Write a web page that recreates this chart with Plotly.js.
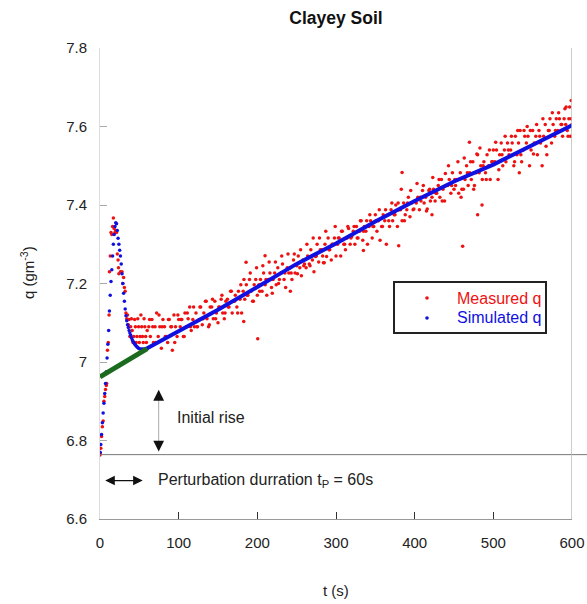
<!DOCTYPE html>
<html>
<head>
<meta charset="utf-8">
<script src="https://cdn.plot.ly/plotly-3.0.1.min.js"></script>
<style>html,body{margin:0;padding:0;background:#fff;}#chart{width:587px;height:604px;}</style>
</head>
<body>
<div id="chart"></div>
<script>
// ---- Measured q: early transient (t, q)
const measEarlyT = [0,0.5,1,2,3,4,5,6,7,8,8.5,9.5,10.5,11.5,12,13,14,15,16,17,18,19,20,21,22,23,23.5,24,26,28,29,30,31,32,33,34,35,36,37,38,39,40,41,42,43,44,45,46,47,48,49,50,51,52,53,54,55,56,57,58,59,60];
const measEarlyQ = [6.763,6.768,6.78,6.81,6.835,6.85,6.9,6.912,6.93,6.94,6.945,7.03,7.05,7.12,7.23,7.27,7.33,7.325,7.345,7.367,7.34,7.33,7.335,7.33,7.275,7.26,7.24,7.225,7.23,7.23,7.2,7.215,7.19,7.18,7.125,7.11,7.12,7.095,7.108,7.065,7.09,7.11,7.08,7.05,7.065,7.108,7.09,7.05,7.065,7.11,7.09,7.05,7.065,7.12,7.09,7.065,7.05,7.11,7.09,7.065,7.05,7.08];

// ---- Measured q: main period (even seconds)
const measT = [
62,64,66,68,70,72,74,76,78,80,
82,84,86,88,90,92,94,96,98,100,
102,104,106,108,110,112,114,116,118,120,
122,124,126,128,130,132,134,136,138,140,
142,144,146,148,150,152,154,156,158,160,
162,164,166,168,170,172,174,176,178,180,
182,184,186,188,190,192,194,196,198,200,
202,204,206,208,210,212,214,216,218,220,
222,224,226,228,230,232,234,236,238,240,
242,244,246,248,250,252,254,256,258,260,
262,264,266,268,270,272,274,276,278,280,
282,284,286,288,290,292,294,296,298,300,
302,304,306,308,310,312,314,316,318,320,
322,324,326,328,330,332,334,336,338,340,
342,344,346,348,350,352,354,356,358,360,
362,364,366,368,370,372,374,376,378,380,
382,384,386,388,390,392,394,396,398,400,
402,404,406,408,410,412,414,416,418,420,
422,424,426,428,430,432,434,436,438,440,
442,444,446,448,450,452,454,456,458,460,
462,464,466,468,470,472,474,476,478,480,
482,484,486,488,490,492,494,496,498,500,
502,504,506,508,510,512,514,516,518,520,
522,524,526,528,530,532,534,536,538,540,
542,544,546,548,550,552,554,556,558,560,
562,564,566,568,570,572,574,576,578,580,
582,584,586,588,590,592,594,596,598,600];
const measQ = [
7.09,7.065,7.108,7.05,7.09,7.125,7.065,7.09,7.035,7.108,
7.09,7.065,7.05,7.108,7.09,7.03,7.12,7.09,7.065,7.108,
7.09,7.108,7.065,7.125,7.09,7.11,7.14,7.08,7.108,7.09,
7.125,7.09,7.108,7.14,7.095,7.125,7.155,7.11,7.09,7.14,
7.14,7.11,7.155,7.125,7.1,7.14,7.16,7.125,7.11,7.155,
7.16,7.14,7.18,7.125,7.155,7.17,7.14,7.18,7.16,7.125,
7.18,7.16,7.197,7.17,7.21,7.18,7.155,7.197,7.21,7.17,
7.197,7.21,7.18,7.227,7.197,7.17,7.21,7.227,7.19,7.21,
7.227,7.197,7.24,7.21,7.227,7.25,7.21,7.19,7.24,7.227,
7.24,7.21,7.26,7.227,7.245,7.27,7.24,7.22,7.26,7.25,
7.24,7.27,7.25,7.286,7.26,7.23,7.269,7.3,7.255,7.286,
7.286,7.253,7.3,7.269,7.316,7.286,7.26,7.3,7.316,7.27,
7.3,7.316,7.27,7.333,7.3,7.286,7.316,7.34,7.3,7.32,
7.333,7.3,7.345,7.316,7.333,7.36,7.31,7.345,7.333,7.3,
7.345,7.36,7.316,7.345,7.375,7.333,7.36,7.31,7.345,7.375,
7.36,7.3,7.375,7.345,7.388,7.36,7.375,7.4,7.345,7.388,
7.388,7.36,7.405,7.375,7.388,7.42,7.37,7.405,7.388,7.41,
7.405,7.42,7.388,7.41,7.437,7.405,7.42,7.39,7.437,7.41,
7.42,7.44,7.41,7.43,7.45,7.42,7.465,7.44,7.41,7.45,
7.45,7.465,7.43,7.482,7.44,7.45,7.465,7.43,7.482,7.44,
7.44,7.465,7.5,7.45,7.482,7.465,7.51,7.45,7.482,7.528,
7.482,7.5,7.465,7.51,7.482,7.528,7.5,7.465,7.51,7.54,
7.51,7.54,7.465,7.528,7.558,7.5,7.54,7.51,7.558,7.528,
7.54,7.558,7.5,7.575,7.528,7.558,7.59,7.51,7.54,7.575,
7.558,7.575,7.5,7.54,7.59,7.558,7.575,7.528,7.59,7.558,
7.5,7.575,7.605,7.528,7.59,7.62,7.558,7.605,7.575,7.62,
7.59,7.62,7.605,7.575,7.62,7.605,7.59,7.62,7.575,7.605];

// ---- Measured q: main period (additional odd-second readings)
const measT2 = [
63,67,71,75,79, 83,87,91,95,99, 103,107,111,115,119, 123,127,131,135,139,
143,147,151,155,159, 163,167,171,175,179, 183,187,191,195,199, 203,207,211,215,219,
223,227,231,235,239, 243,247,251,255,259, 263,267,271,275,279, 283,287,291,295,299,
303,307,311,315,319, 323,327,331,335,339, 343,347,351,355,359, 363,367,371,375,379,
383,387,391,395,399, 403,407,411,415,419, 423,427,431,435,439, 443,447,451,455,459,
463,467,471,475,479, 483,487,491,495,499, 503,507,511,515,519, 523,527,531,535,539,
543,547,551,555,559, 563,567,571,575,579, 583,587,591,595,599];
const measQ2 = [
7.108,7.09,7.05,7.12,7.09, 7.065,7.108,7.09,7.05,7.12, 7.108,7.065,7.125,7.09,7.14, 7.09,7.14,7.11,7.155,7.095,
7.16,7.11,7.14,7.17,7.125, 7.14,7.18,7.155,7.125,7.197, 7.21,7.17,7.227,7.155,7.24, 7.18,7.245,7.21,7.255,7.175,
7.255,7.2,7.27,7.227,7.275, 7.227,7.275,7.225,7.286,7.245, 7.3,7.245,7.316,7.27,7.316, 7.27,7.333,7.286,7.3,7.345,
7.316,7.333,7.3,7.345,7.316, 7.345,7.316,7.36,7.333,7.36, 7.375,7.345,7.36,7.388,7.345, 7.388,7.36,7.405,7.375,7.405,
7.44,7.36,7.405,7.437,7.39, 7.455,7.42,7.45,7.385,7.44, 7.47,7.43,7.465,7.41,7.48, 7.5,7.45,7.465,7.51,7.42,
7.52,7.482,7.51,7.44,7.53, 7.545,7.5,7.465,7.54,7.51, 7.56,7.49,7.528,7.575,7.54, 7.575,7.51,7.59,7.528,7.59,
7.6,7.59,7.53,7.605,7.575, 7.62,7.55,7.59,7.635,7.59, 7.635,7.605,7.645,7.575,7.62];

// ---- Measured q: outlying readings
const outT = [182.7,185.7,200.5,209.8,242,285,334.8,379.7,384,422,461,469.6,480,485.6,533,592.5,599,597];
const outQ = [7.103,7.254,7.059,7.271,7.18,7.253,7.284,7.296,7.483,7.375,7.295,7.56,7.375,7.40,7.482,7.65,7.666,7.65];

// ---- Simulated q: transient
const simT = [0,1,2,3,4,5,6,7,8,9,10,11,12,13,14,15,16,17,18,19,20,21,22,23,24,25,26,27,28,29,30,31,32,33,34,35,36,37,38,39,40,41,42,43,44,45,46,47,48,49,50,52,54,56,58,60];
const simQ = [6.770,6.790,6.815,6.845,6.870,6.895,6.920,6.945,6.975,7.010,
7.045,7.080,7.130,7.170,7.205,7.235,7.270,7.300,7.325,7.345,
7.355,7.352,7.335,7.315,7.300,7.285,7.270,7.250,7.225,7.200,
7.175,7.155,7.135,7.118,7.105,7.095,7.088,7.080,7.074,7.068,
7.062,7.057,7.053,7.049,7.046,7.043,7.041,7.039,7.037,7.035,
7.034,7.033,7.033,7.033,7.034,7.035];

// ---- Simulated q: long-term trend
const simLineT = [60,100,150,200,250,300,350,400,450,500,550,600];
const simLineQ = [7.035,7.078,7.133,7.191,7.250,7.302,7.358,7.410,7.460,7.503,7.552,7.603];

// ---- Extrapolated initial-rise line (green)
const greenT = [0,60];
const greenQ = [6.962,7.034];

// ---- Reference levels / annotation anchors
const baseQ = 6.764;
const arrowT = 74.6;
const perturbY = 6.698;
const perturbT = [4.7,54.3];

const yTicks = [6.6,6.8,7,7.2,7.4,7.6,7.8];
const yTickText = ['6.6','6.8','7','7.2','7.4','7.6','7.8'];
const xTicks = [0,100,200,300,400,500,600];

const legendNames = ['Measured q','Simulated q'];

const FONT = 'Liberation Sans, Arial, sans-serif';
const RED = '#ee1111', BLUE = '#1010e0';

const traces = [
  {x: measEarlyT.concat(measT, measT2, outT), y: measEarlyQ.concat(measQ, measQ2, outQ), type:'scatter', mode:'markers',
   name:legendNames[0], showlegend:false, marker:{color:RED, size:3.5}},
  {x: simT, y: simQ, type:'scatter', mode:'markers', name:legendNames[1], showlegend:false,
   marker:{color:BLUE, size:3.5}},
  {x: simLineT, y: simLineQ, type:'scatter', mode:'lines', showlegend:false,
   line:{color:BLUE, width:4}},
  {x: greenT, y: greenQ, type:'scatter', mode:'lines', showlegend:false,
   line:{color:'#1b6b1f', width:5}}
];

// legend box geometry (paper fractions)
const LX0 = 0.6229, LX1 = 0.9449, LY0 = 0.3949, LY1 = 0.5032;
const LDOT = 0.6928, LTXT = 0.7521, LROW = [0.4692, 0.4268];

const layout = {
  width:587, height:604,
  margin:{l:100, r:15, t:48, b:85},
  paper_bgcolor:'#fff', plot_bgcolor:'#fff',
  font:{family:FONT, size:15, color:'#222'},
  showlegend:false,
  title:{text:'<b>Clayey Soil</b>', x:0.5, xref:'paper', y:0.97, yref:'container', yanchor:'middle',
         font:{family:FONT, size:17.5, color:'#111'}},
  xaxis:{range:[0,600], tickvals:xTicks, ticks:'inside', ticklen:7, tickcolor:'#333', tickwidth:1,
         showline:true, linecolor:'#999', linewidth:1, showgrid:false, zeroline:false,
         ticklabelstandoff:10, tickfont:{family:FONT, size:15, color:'#222'}},
  yaxis:{range:[6.6,7.8], tickvals:yTicks, ticktext:yTickText, ticks:'inside', ticklen:7, tickcolor:'#aaa',
         showline:true, linecolor:'#ddd', linewidth:1, showgrid:false, zeroline:false,
         ticklabelstandoff:9, tickfont:{family:FONT, size:15, color:'#222'}},
  shapes:[
    {type:'line', xref:'paper', x0:0, x1:1.032, yref:'y', y0:baseQ, y1:baseQ, line:{color:'#777', width:1}},
    {type:'line', xref:'x', x0:600, x1:600, yref:'paper', y0:0, y1:1, line:{color:'#bbb', width:1.5}},
    {type:'line', xref:'x', x0:arrowT, x1:arrowT, yref:'y', y0:6.78, y1:6.92, line:{color:'#aaa', width:1}},
    {type:'rect', xref:'paper', yref:'paper', x0:LX0, x1:LX1, y0:LY0, y1:LY1,
     line:{color:'#222', width:2}, fillcolor:'#fff', layer:'above'},
    {type:'circle', xref:'paper', yref:'paper', xsizemode:'pixel', ysizemode:'pixel',
     xanchor:LDOT, yanchor:LROW[0], x0:-1.8, x1:1.8, y0:-1.8, y1:1.8, fillcolor:RED, line:{width:0}, layer:'above'},
    {type:'circle', xref:'paper', yref:'paper', xsizemode:'pixel', ysizemode:'pixel',
     xanchor:LDOT, yanchor:LROW[1], x0:-1.8, x1:1.8, y0:-1.8, y1:1.8, fillcolor:BLUE, line:{width:0}, layer:'above'}
  ],
  annotations:[
    {x:arrowT, y:6.929, ax:arrowT, ay:6.90, xref:'x', yref:'y', axref:'x', ayref:'y', text:'',
     showarrow:true, arrowhead:2, arrowsize:1.8, arrowwidth:1.2, arrowcolor:'#111'},
    {x:arrowT, y:6.772, ax:arrowT, ay:6.80, xref:'x', yref:'y', axref:'x', ayref:'y', text:'',
     showarrow:true, arrowhead:2, arrowsize:1.8, arrowwidth:1.2, arrowcolor:'#111'},
    {x:perturbT[1], y:perturbY, ax:perturbT[0], ay:perturbY, xref:'x', yref:'y', axref:'x', ayref:'y', text:'',
     showarrow:true, arrowhead:2, startarrowhead:2, arrowside:'end+start', arrowsize:1.6, startarrowsize:1.6,
     arrowwidth:1.2, arrowcolor:'#111'},
    {x:95.8, y:6.858, xref:'x', yref:'y', xanchor:'left', yanchor:'middle', showarrow:false,
     text:'Initial rise', font:{family:FONT, size:16, color:'#222'}},
    {x:71.5, y:perturbY, xref:'x', yref:'y', xanchor:'left', yanchor:'middle', showarrow:false,
     text:'Perturbation durration t<sub>P</sub> = 60s', font:{family:FONT, size:16, color:'#222'}},
    {x:-0.155, y:0.524, xref:'paper', yref:'paper', xanchor:'center', yanchor:'middle', showarrow:false,
     textangle:-90, text:'q (gm<sup>-3</sup>)', font:{family:FONT, size:15, color:'#222'}},
    {x:0.5, y:-0.151, xref:'paper', yref:'paper', xanchor:'center', yanchor:'middle', showarrow:false,
     text:'t (s)', font:{family:FONT, size:15, color:'#222'}},
    {x:LTXT, y:LROW[0], xref:'paper', yref:'paper', xanchor:'left', yanchor:'middle', showarrow:false,
     text:legendNames[0], font:{family:FONT, size:16, color:RED}},
    {x:LTXT, y:LROW[1], xref:'paper', yref:'paper', xanchor:'left', yanchor:'middle', showarrow:false,
     text:legendNames[1], font:{family:FONT, size:16, color:BLUE}}
  ]
};

Plotly.newPlot('chart', traces, layout, {staticPlot:true, displayModeBar:false});
</script>
</body>
</html>
